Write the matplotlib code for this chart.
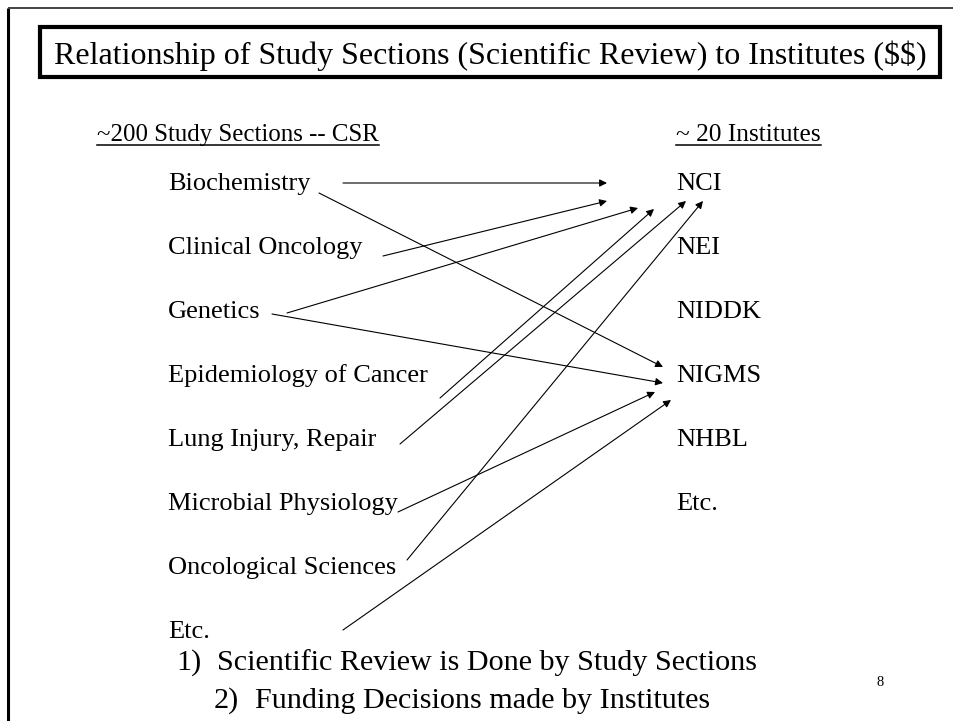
import matplotlib
matplotlib.use("Agg")
import matplotlib.pyplot as plt
from matplotlib.patches import Rectangle

# ---- data ----
title = "Relationship of Study Sections (Scientific Review) to Institutes ($$)"
left_header = "~200 Study Sections -- CSR"
right_header = "~ 20 Institutes"
sections = ["Biochemistry", "Clinical Oncology", "Genetics", "Epidemiology of Cancer",
            "Lung Injury, Repair", "Microbial Physiology", "Oncological Sciences", "Etc."]
institutes = ["NCI", "NEI", "NIDDK", "NIGMS", "NHBL", "Etc."]
# links: (section index, institute index)
link_src = [0, 0, 1, 2, 2, 3, 4, 6, 5, 7]
link_dst = [0, 3, 0, 0, 3, 0, 0, 0, 3, 3]
notes = ["1)", "Scientific Review is Done by Study Sections",
         "2)", "Funding Decisions made by Institutes"]
page = "8"

# ---- layout (pixel space) ----
W, H = 954, 721
fig = plt.figure(figsize=(W / 100, H / 100), dpi=100)
ax = fig.add_axes([0, 0, 1, 1])
ax.set_xlim(0, W)
ax.set_ylim(H, 0)
ax.axis("off")
FONT = "Liberation Serif"

row0, drow = 190, 64
left_x, right_x = 168, 676

def row_y(i):
    return row0 + i * drow

# slide frame
ax.plot([8, 8], [H, 8], color="black", lw=2.2, solid_capstyle="butt")
ax.plot([8, W], [8, 8], color="#444444", lw=1.4, solid_capstyle="butt")

# title box
ax.add_patch(Rectangle((40, 27), 900, 50, fill=False, edgecolor="black", lw=3.0))
ax.text(490, 64, title, fontfamily=FONT, fontsize=23, ha="center", va="baseline",
        parse_math=False)

fig.canvas.draw()
renderer = fig.canvas.get_renderer()

def underlined(x, y, s, size):
    t = ax.text(x, y, s, fontfamily=FONT, fontsize=size, ha="left", va="baseline")
    bb = t.get_window_extent(renderer=renderer)
    inv = ax.transData.inverted()
    (x0, _), (x1, _) = inv.transform([(bb.x0, 0), (bb.x1, 0)])
    ax.plot([x0, x1], [y + 4, y + 4], color="black", lw=1.1)

underlined(97, 141, left_header, 17.9)
underlined(676, 141, right_header, 18.3)

for i, s in enumerate(sections):
    ax.text(left_x, row_y(i), s, fontfamily=FONT, fontsize=19, ha="left", va="baseline")
for j, s in enumerate(institutes):
    ax.text(right_x, row_y(j), s, fontfamily=FONT, fontsize=19, ha="left", va="baseline")

# arrow geometry: start x / dy relative to source row, end x / dy relative to target row
start_x = [343, 319, 383, 287, 272, 440, 400, 407, 398, 343]
start_dy = [-7, 3, 2, -5, -4, 16, -2, -14, 2, -8]
end_x = [607, 663, 607, 638, 663, 654, 686, 703, 655, 671]
end_dy = [-7, -15, 11, 18, 1, 19, 11, 11, 10, 18]

for k in range(len(link_src)):
    x0 = start_x[k]; y0 = row_y(link_src[k]) + start_dy[k]
    x1 = end_x[k]; y1 = row_y(link_dst[k]) + end_dy[k]
    ax.annotate("", xy=(x1, y1), xytext=(x0, y0),
                arrowprops=dict(arrowstyle="-|>", color="black", lw=0.8,
                                mutation_scale=11, shrinkA=0, shrinkB=0))

# notes
ax.text(176, 670, notes[0], fontfamily=FONT, fontsize=21.7, ha="left", va="baseline")
ax.text(217, 670, notes[1], fontfamily=FONT, fontsize=21.7, ha="left", va="baseline")
ax.text(214, 708, notes[2], fontfamily=FONT, fontsize=21.7, ha="left", va="baseline")
ax.text(255, 708, notes[3], fontfamily=FONT, fontsize=21.7, ha="left", va="baseline")
ax.text(880, 686, page, fontfamily=FONT, fontsize=10.5, ha="center", va="baseline")

fig.savefig("out.png", dpi=100)
